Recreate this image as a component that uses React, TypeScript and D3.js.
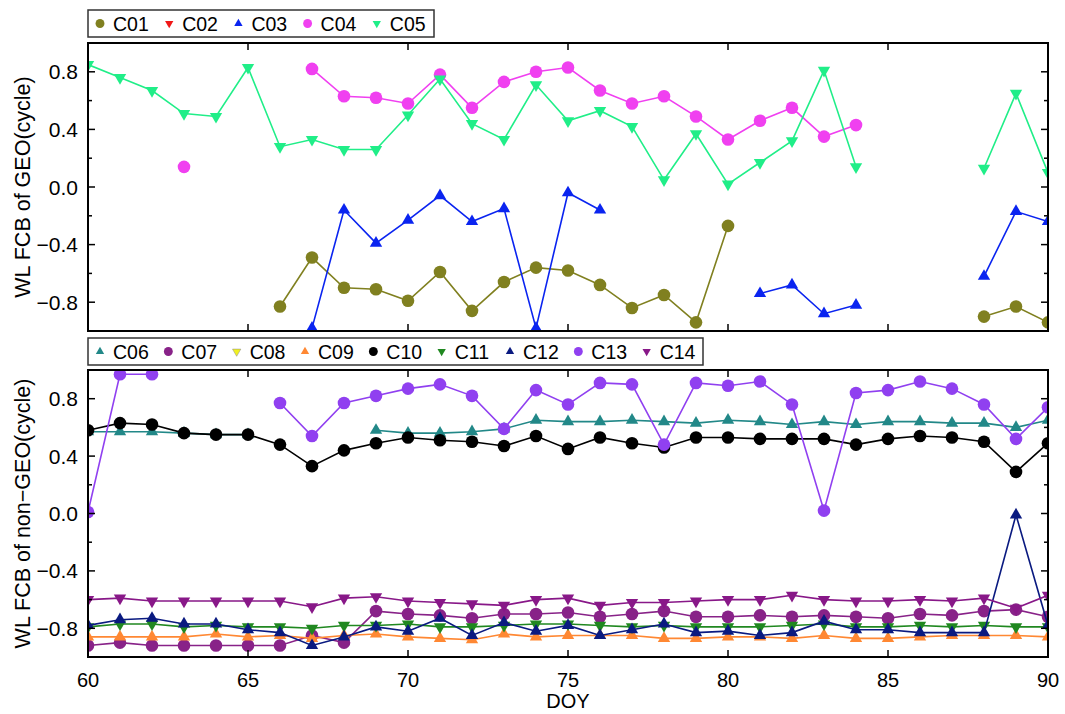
import React from 'react';
import * as d3 from 'd3';

// day of year, one value per day in every series (null = no solution)
const days = [60, 61, 62, 63, 64, 65, 66, 67, 68, 69, 70, 71, 72, 73, 74, 75, 76, 77, 78, 79, 80, 81, 82, 83, 84, 85, 86, 87, 88, 89, 90];
const xTicks = [60, 65, 70, 75, 80, 85, 90];
const yMajor = [0.8, 0.4, 0.0, -0.4, -0.8];
const yMinor = [0.6, 0.2, -0.2, -0.6];

const _ = null;

// GEO
const C01 = [_, _, _, _, _, _, -0.83, -0.49, -0.70, -0.71, -0.79, -0.59, -0.86, -0.66, -0.56, -0.58, -0.68, -0.84, -0.75, -0.94, -0.27, _, _, _, _, _, _, _, -0.90, -0.83, -0.94];
const C02 = [_, _, _, _, _, _, _, _, _, _, _, _, _, _, _, _, _, _, _, _, _, _, _, _, _, _, _, _, _, _, _];
const C03 = [_, _, _, _, _, _, _, -0.98, -0.16, -0.39, -0.23, -0.06, -0.24, -0.15, -0.98, -0.04, -0.16, _, _, _, _, -0.74, -0.68, -0.88, -0.82, _, _, _, -0.62, -0.17, -0.24];
const C04 = [_, _, _, 0.14, _, _, _, 0.82, 0.63, 0.62, 0.58, 0.78, 0.55, 0.73, 0.80, 0.83, 0.67, 0.58, 0.63, 0.49, 0.33, 0.46, 0.55, 0.35, 0.43, _, _, _, _, _, _];
const C05 = [0.85, 0.76, 0.67, 0.51, 0.49, 0.83, 0.28, 0.33, 0.26, 0.26, 0.50, 0.75, 0.44, 0.33, 0.71, 0.46, 0.53, 0.42, 0.05, 0.37, 0.02, 0.17, 0.32, 0.81, 0.14, _, _, _, 0.13, 0.65, 0.10];

// non-GEO
const C06 = [0.57, 0.57, 0.57, 0.56, 0.55, 0.55, _, _, _, 0.58, 0.56, 0.56, 0.57, 0.59, 0.65, 0.64, 0.64, 0.65, 0.64, 0.63, 0.65, 0.64, 0.62, 0.64, 0.62, 0.64, 0.64, 0.63, 0.63, 0.60, 0.65];
const C07 = [-0.92, -0.90, -0.92, -0.92, -0.92, -0.92, -0.92, -0.85, -0.90, -0.68, -0.70, -0.71, -0.73, -0.70, -0.70, -0.69, -0.72, -0.70, -0.68, -0.72, -0.72, -0.71, -0.72, -0.71, -0.72, -0.73, -0.70, -0.71, -0.68, -0.67, -0.72];
const C08 = [_, _, _, _, _, _, _, _, _, _, _, _, _, _, _, _, _, _, _, _, _, _, _, _, _, _, _, _, _, _, _];
const C09 = [-0.86, -0.86, -0.86, -0.86, -0.84, -0.86, -0.85, -0.87, -0.85, -0.84, -0.86, -0.87, -0.88, -0.84, -0.86, -0.85, -0.85, -0.85, -0.87, -0.87, -0.86, -0.86, -0.87, -0.85, -0.87, -0.87, -0.86, -0.85, -0.85, -0.85, -0.86];
const C10 = [0.58, 0.63, 0.62, 0.56, 0.55, 0.55, 0.48, 0.33, 0.44, 0.49, 0.53, 0.51, 0.50, 0.47, 0.54, 0.45, 0.53, 0.49, 0.46, 0.53, 0.53, 0.52, 0.52, 0.52, 0.48, 0.52, 0.54, 0.53, 0.50, 0.29, 0.49];
const C11 = [-0.79, -0.77, -0.77, -0.79, -0.78, -0.79, -0.79, -0.80, -0.78, -0.78, -0.77, -0.79, -0.79, -0.78, -0.77, -0.77, -0.78, -0.79, -0.78, -0.79, -0.79, -0.79, -0.78, -0.77, -0.79, -0.79, -0.78, -0.79, -0.78, -0.79, -0.79];
const C12 = [-0.78, -0.74, -0.73, -0.77, -0.77, -0.81, -0.83, -0.92, -0.86, -0.79, -0.82, -0.73, -0.85, -0.76, -0.82, -0.78, -0.85, -0.81, -0.77, -0.83, -0.82, -0.85, -0.83, -0.75, -0.81, -0.81, -0.83, -0.83, -0.83, -0.01, -0.78];
const C13 = [0.01, 0.97, 0.97, _, _, _, 0.77, 0.54, 0.77, 0.82, 0.87, 0.90, 0.82, 0.59, 0.86, 0.76, 0.91, 0.90, 0.48, 0.91, 0.89, 0.92, 0.76, 0.02, 0.84, 0.86, 0.92, 0.87, 0.76, 0.52, 0.74];
const C14 = [-0.60, -0.59, -0.61, -0.61, -0.61, -0.61, -0.61, -0.65, -0.59, -0.58, -0.61, -0.62, -0.63, -0.64, -0.60, -0.59, -0.64, -0.62, -0.62, -0.61, -0.60, -0.60, -0.57, -0.60, -0.61, -0.61, -0.60, -0.61, -0.59, -0.66, -0.57];

type Mark = 'circle' | 'up' | 'down';
type Series = { name: string; values: (number | null)[]; color: string; mark: Mark };

const geoSeries: Series[] = [
  { name: 'C01', values: C01, color: '#808020', mark: 'circle' },
  { name: 'C02', values: C02, color: '#f01818', mark: 'down' },
  { name: 'C03', values: C03, color: '#0a24f0', mark: 'up' },
  { name: 'C04', values: C04, color: '#f040f0', mark: 'circle' },
  { name: 'C05', values: C05, color: '#20ee88', mark: 'down' },
];

const nonGeoSeries: Series[] = [
  { name: 'C06', values: C06, color: '#228888', mark: 'up' },
  { name: 'C07', values: C07, color: '#882288', mark: 'circle' },
  { name: 'C08', values: C08, color: '#f0f020', mark: 'down' },
  { name: 'C09', values: C09, color: '#ff8833', mark: 'up' },
  { name: 'C10', values: C10, color: '#000000', mark: 'circle' },
  { name: 'C11', values: C11, color: '#208820', mark: 'down' },
  { name: 'C12', values: C12, color: '#0a1a80', mark: 'up' },
  { name: 'C13', values: C13, color: '#9040f0', mark: 'circle' },
  { name: 'C14', values: C14, color: '#881888', mark: 'down' },
];

const W = 1065;
const H = 714;
const left = 88;
const right = 1048;
const font = '"Liberation Sans", Arial, sans-serif';

const x = d3.scaleLinear().domain([60, 90]).range([left, right]);

function markPath(mark: Mark, big: boolean) {
  if (mark === 'circle') return d3.symbol(d3.symbolCircle, big ? 125 : 62)()!;
  return d3.symbol(d3.symbolTriangle, big ? 66 : 30)()!;
}

function Panel({ series, top, bottom, label, id, legendTop, legendRight }: {
  series: Series[]; top: number; bottom: number; label: string; id: string; legendTop: number; legendRight: number;
}) {
  const y = d3.scaleLinear().domain([-1, 1]).range([bottom, top]);
  const line = d3.line<[number, number | null]>()
    .defined(d => d[1] !== null)
    .x(d => x(d[0]))
    .y(d => y(d[1] as number));
  const step = (legendRight - left) / series.length;
  const midY = (top + bottom) / 2;
  return (
    <g>
      <defs>
        <clipPath id={id}>
          <rect x={left} y={top} width={right - left} height={bottom - top} />
        </clipPath>
      </defs>
      <g clipPath={`url(#${id})`}>
        {series.map(s => {
          const pts = days.map((d, i) => [d, s.values[i]] as [number, number | null]);
          return (
            <g key={s.name}>
              <path d={line(pts) || ''} fill="none" stroke={s.color} strokeWidth={1.6} />
              {pts.filter(p => p[1] !== null).map(p => (
                <path key={p[0]} d={markPath(s.mark, true)} fill={s.color}
                  transform={`translate(${x(p[0])},${y(p[1] as number)})${s.mark === 'down' ? ' rotate(180)' : ''}`} />
              ))}
            </g>
          );
        })}
      </g>
      {/* ticks */}
      {xTicks.slice(1, -1).map(t => (
        <g key={t}>
          <line x1={x(t)} x2={x(t)} y1={top} y2={top + 7} stroke="#000" strokeWidth={1.5} />
          <line x1={x(t)} x2={x(t)} y1={bottom} y2={bottom - 7} stroke="#000" strokeWidth={1.5} />
        </g>
      ))}
      {yMajor.map(t => (
        <g key={t}>
          <line x1={left} x2={left + 7} y1={y(t)} y2={y(t)} stroke="#000" strokeWidth={1.5} />
          <line x1={right} x2={right - 7} y1={y(t)} y2={y(t)} stroke="#000" strokeWidth={1.5} />
          <text x={left - 10} y={y(t)} dy="0.36em" textAnchor="end" fontSize={21} fontFamily={font}>
            {t.toFixed(1).replace('-', '\u2212')}
          </text>
        </g>
      ))}
      {yMinor.map(t => (
        <g key={t}>
          <line x1={left} x2={left + 4} y1={y(t)} y2={y(t)} stroke="#000" strokeWidth={1.5} />
          <line x1={right} x2={right - 4} y1={y(t)} y2={y(t)} stroke="#000" strokeWidth={1.5} />
        </g>
      ))}
      <rect x={left} y={top} width={right - left} height={bottom - top} fill="none" stroke="#000" strokeWidth={2} />
      <text transform={`translate(22,${midY}) rotate(-90)`} textAnchor="middle" dy="0.35em" fontSize={21.5} fontFamily={font}>
        {label}
      </text>
      {/* legend */}
      <rect x={left} y={legendTop} width={legendRight - left} height={27} fill="#fff" stroke="#333" strokeWidth={1.5} />
      {series.map((s, i) => {
        const lx = left + 12 + i * step;
        const ly = legendTop + 13.5;
        return (
          <g key={s.name}>
            <path d={markPath(s.mark, false)} fill={s.color}
              stroke={s.name === 'C08' ? '#888' : 'none'} strokeWidth={0.5}
              transform={`translate(${lx},${ly})${s.mark === 'down' ? ' rotate(180)' : ''}`} />
            <text x={lx + 13} y={ly} dy="0.36em" fontSize={19.5} fontFamily={font}>{s.name}</text>
          </g>
        );
      })}
    </g>
  );
}

export default function App() {
  const bottom2 = 657;
  return (
    <svg width={W} height={H} style={{ position: 'absolute', left: 0, top: 0, background: '#fff' }}>
      <Panel series={geoSeries} top={43} bottom={331} label="WL FCB of GEO(cycle)" id="clipGeo" legendTop={10} legendRight={434} />
      <Panel series={nonGeoSeries} top={370} bottom={bottom2} label={'WL FCB of non\u2212GEO(cycle)'} id="clipNon" legendTop={338} legendRight={703} />
      {xTicks.map(t => (
        <text key={t} x={x(t)} y={bottom2 + 30} textAnchor="middle" fontSize={20} fontFamily={font}>{t}</text>
      ))}
      <text x={(left + right) / 2} y={708} textAnchor="middle" fontSize={20} fontFamily={font}>DOY</text>
    </svg>
  );
}
